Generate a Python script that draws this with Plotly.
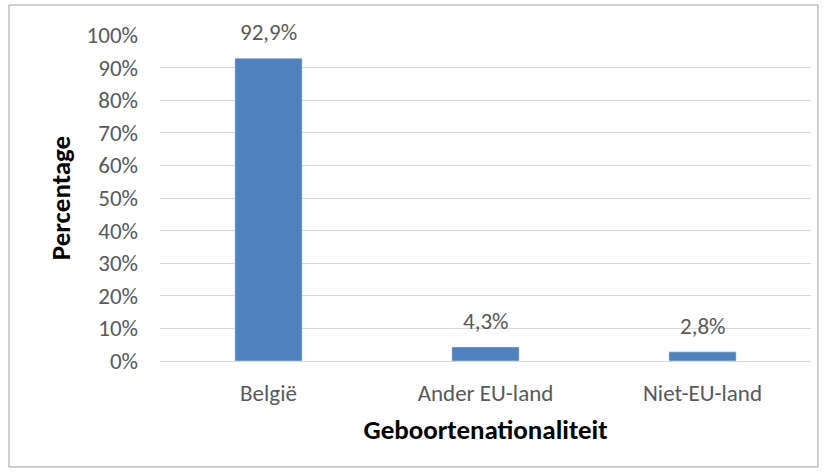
import plotly.graph_objects as go

categories = ["België", "Ander EU-land", "Niet-EU-land"]
percentages = [0.929, 0.043, 0.028]
y_ticks = [0, 0.1, 0.2, 0.3, 0.4, 0.5, 0.6, 0.7, 0.8, 0.9, 1.0]

text_color = "#595959"
font_family = "Carlito, Calibri, Lato, Liberation Sans, sans-serif"

fig = go.Figure(go.Bar(
    x=categories,
    y=percentages,
    marker_color="#4F81BD",
    hoverinfo="skip",
))

# data labels, a bit above the bars like in Excel
for cat, v in zip(categories, percentages):
    fig.add_annotation(
        x=cat, y=v, yanchor="bottom", yshift=10,
        text=f"{v * 100:.1f}%".replace(".", ","),
        showarrow=False,
        font=dict(size=23, color=text_color),
    )

fig.update_layout(
    width=827,
    height=474,
    margin=dict(l=160, r=16, t=35, b=113),
    plot_bgcolor="white",
    paper_bgcolor="white",
    font=dict(family=font_family, color=text_color, size=23),
    bargap=0.69,
    showlegend=False,
    shapes=[dict(
        type="rect", xref="paper", yref="paper",
        x0=-0.232, x1=1.0108, y0=-0.325, y1=1.092,
        line=dict(color="#A0A0A0", width=1), fillcolor="rgba(0,0,0,0)",
    )],
)

fig.update_yaxes(
    range=[0, 1],
    tickvals=y_ticks,
    tickformat=".0%",
    showgrid=True,
    gridcolor="#D9D9D9",
    gridwidth=1,
    zeroline=False,
    ticks="",
    ticklabelstandoff=21,
    title=dict(text="<b>Percentage</b>", font=dict(size=27, color="black"), standoff=8),
)
fig.update_xaxes(
    showline=True,
    linecolor="#D9D9D9",
    ticks="",
    ticklabelstandoff=11,
    title=dict(text="<b>Geboortenationaliteit</b>", font=dict(size=27, color="black"), standoff=14),
)

# the page body has an 8px margin by default; drop it so the figure sits at 0,0
fig.write_html("out.html", config={"displayModeBar": False},
               post_script="document.body.style.margin='0';")
